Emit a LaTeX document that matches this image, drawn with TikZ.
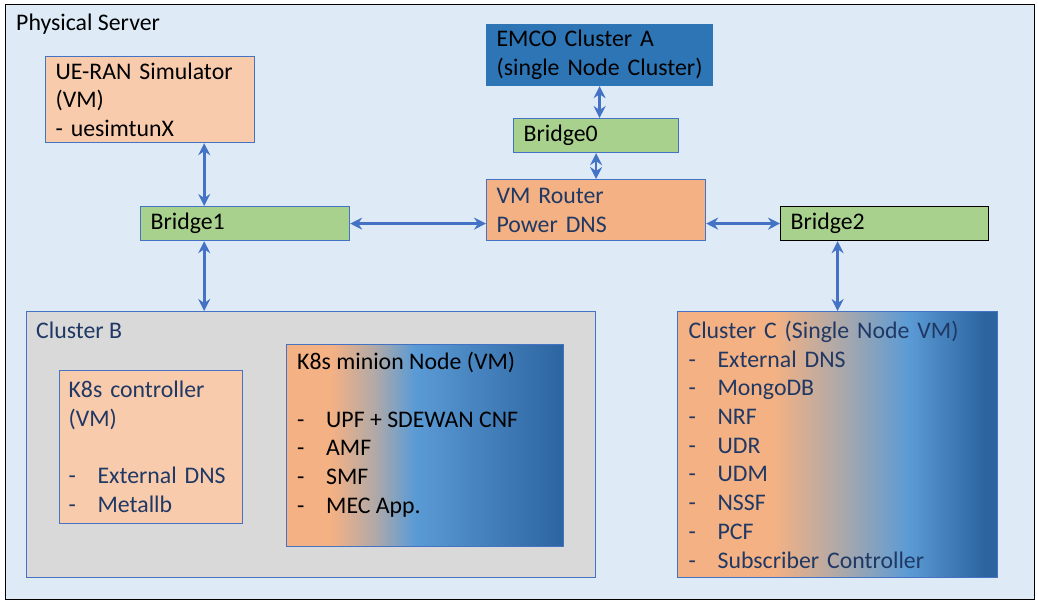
\documentclass[tikz,border=0pt]{standalone}
\usepackage{fontspec}
\setmainfont{Carlito}
\usetikzlibrary{arrows.meta}
\definecolor{serverbg}{HTML}{DEEBF7}
\definecolor{edgeblue}{HTML}{4472C4}
\definecolor{peach}{HTML}{F8CBAD}
\definecolor{tangerine}{HTML}{F4B183}
\definecolor{leaf}{HTML}{A9D18E}
\definecolor{emcoblue}{HTML}{2E75B6}
\definecolor{clustergray}{HTML}{D9D9D9}
\definecolor{navy}{HTML}{1F3864}
\definecolor{midgray}{HTML}{B0A9A8}
\definecolor{skyb}{HTML}{5B9BD5}
\definecolor{deepb}{HTML}{2C64A0}
\pgfdeclarehorizontalshading{minionfade}{100bp}{color(0bp)=(tangerine); color(33bp)=(tangerine); color(41bp)=(midgray); color(48bp)=(skyb); color(75bp)=(deepb); color(100bp)=(deepb)}
\pgfdeclarehorizontalshading{clustercfade}{100bp}{color(0bp)=(tangerine); color(40bp)=(tangerine); color(50bp)=(midgray); color(61bp)=(skyb); color(73bp)=(deepb); color(100bp)=(deepb)}
\newcommand{\dashitem}[1]{\makebox[29pt][l]{-}#1}
\tikzset{
  frame/.style={draw=black, line width=1pt, fill=serverbg, anchor=north west},
  box/.style={draw=edgeblue, line width=1.2pt, inner xsep=10pt, inner ysep=4pt, align=left, anchor=north west, font=\fontsize{23.8}{28.7}\selectfont},
  vm/.style={box, fill=peach},
  bridge/.style={box, fill=leaf},
  txt/.style={inner sep=0pt, anchor=west, align=left, font=\fontsize{23.8}{28.7}\selectfont},
  link/.style={draw=edgeblue, line width=2.6pt, >={Stealth[length=12pt,width=12pt,inset=4pt]}, <->}
}
\begin{document}
\begin{tikzpicture}[x=1pt,y=-1pt]
\useasboundingbox (0,0) rectangle (1038,601);

% physical server
\node[frame, minimum width=1029pt, minimum height=595pt] (server) at (5,4) {};
\node[txt] (servertitle) at (16,24) {Physical Server};

% top row
\node[vm, minimum width=209pt, minimum height=86pt, text width=189pt] (uesim) at (45,56) {UE-RAN Simulator\\(VM)\\- uesimtunX};
\node[box, fill=emcoblue, draw=emcoblue, minimum width=226pt, minimum height=61pt, text width=206pt] (emco) at (486,24) {EMCO Cluster A\\(single Node Cluster)};
\node[bridge, minimum width=165pt, minimum height=34pt, text width=145pt] (bridge0) at (513,118) {Bridge0};
\node[box, fill=tangerine, text=navy, minimum width=219pt, minimum height=61pt, text width=199pt] (router) at (486,179) {VM Router\\Power DNS};
\node[bridge, minimum width=209pt, minimum height=34pt, text width=189pt] (bridge1) at (140,206) {Bridge1};
\node[bridge, draw=black, minimum width=208pt, minimum height=34pt, text width=188pt] (bridge2) at (780,206) {Bridge2};

% cluster B
\node[box, fill=clustergray, minimum width=569pt, minimum height=266pt] (clusterB) at (26,311) {};
\node[txt, text=navy] (clusterBtitle) at (36,330) {Cluster B};
\node[vm, text=navy, inner xsep=9pt, minimum width=183pt, minimum height=153pt, text width=165pt] (k8sctrl) at (59,370) {K8s controller\\(VM)\\[28.7pt]\dashitem{External DNS}\\\dashitem{Metallb}};
\node[box, shading=minionfade, minimum width=277pt, minimum height=202pt] (minion) at (286,344) {};
\node[txt, anchor=north west] (miniontext) at (297,352) {K8s minion Node (VM)\\[28.7pt]\dashitem{UPF + SDEWAN CNF}\\\dashitem{AMF}\\\dashitem{SMF}\\\dashitem{MEC App.}};

% cluster C
\node[box, shading=clustercfade, text=navy, inner xsep=11pt, minimum width=320pt, minimum height=266pt, text width=298pt] (clusterC) at (677,311) {Cluster C (Single Node VM)\\\dashitem{External DNS}\\\dashitem{MongoDB}\\\dashitem{NRF}\\\dashitem{UDR}\\\dashitem{UDM}\\\dashitem{NSSF}\\\dashitem{PCF}\\\dashitem{Subscriber Controller}};

% links
\coordinate (uelink) at ([xshift=-51pt]uesim.south east);
\draw[link] (uelink) -- (uelink |- bridge1.north);
\draw[link] (uelink |- bridge1.south) -- (uelink |- clusterB.north);
\draw[link] (bridge1.east) -- (bridge1.east -| router.west);
\draw[link] (emco.south) -- (emco.south |- bridge0.north);
\draw[link] (bridge0.south) -- (bridge0.south |- router.north);
\draw[link] (router.east |- bridge2.west) -- (bridge2.west);
\draw[link] (bridge2.south -| clusterC.north) -- (clusterC.north);
\end{tikzpicture}
\end{document}
